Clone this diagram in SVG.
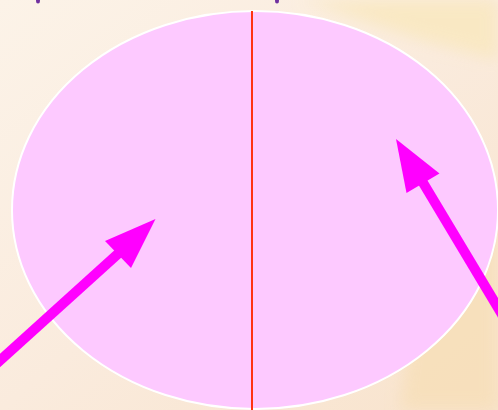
<svg xmlns="http://www.w3.org/2000/svg" width="498" height="410" viewBox="0 0 498 410">
  <defs>
    <linearGradient id="bg" x1="0" y1="0" x2="1" y2="1">
      <stop offset="0" stop-color="#FCF3E8"/>
      <stop offset="0.5" stop-color="#FAEBDD"/>
      <stop offset="1" stop-color="#F8E3CC"/>
    </linearGradient>
    <linearGradient id="warm" x1="0" y1="0" x2="1" y2="0">
      <stop offset="0" stop-color="#F9E6C0" stop-opacity="0"/>
      <stop offset="1" stop-color="#F9E6BE" stop-opacity="0.9"/>
    </linearGradient>
    <filter id="blur" x="-20%" y="-20%" width="140%" height="140%">
      <feGaussianBlur stdDeviation="8"/>
    </filter>
    <style>
      .node { fill: #FDC9FF; stroke: #FFFFFF; stroke-width: 2; }
      .divider { stroke: #FF3311; stroke-width: 2; }
      .shaft { stroke: #FF00FF; stroke-width: 10; fill: none; }
      .head { fill: #FF00FF; }
      .dot { fill: #7030A0; }
    </style>
  </defs>
  <rect width="498" height="410" fill="url(#bg)"/>
  <polygon points="300,0 498,0 498,60 420,40" fill="#F9E8BF" opacity="0.85" filter="url(#blur)"/>
  <polygon points="420,260 498,230 498,410 400,410" fill="#F7DFB8" opacity="0.8" filter="url(#blur)"/>
  <ellipse class="dot" cx="38" cy="1" rx="2" ry="2.5"/>
  <ellipse class="dot" cx="277" cy="1" rx="2" ry="2.5"/>
  <g id="ellipse-node">
    <ellipse class="node" cx="255" cy="210" rx="243" ry="199"/>
    <line class="divider" x1="252" y1="11" x2="252" y2="410"/>
  </g>
  <g id="connectors">
    <line class="shaft" x1="-6" y1="366" x2="120" y2="252"/>
    <polygon class="head" points="155.5,219 105,241 131,268"/>
    <line class="shaft" x1="506" y1="321" x2="422" y2="181"/>
    <polygon class="head" points="396,139 439.5,173.5 406.5,193"/>
  </g>
</svg>
